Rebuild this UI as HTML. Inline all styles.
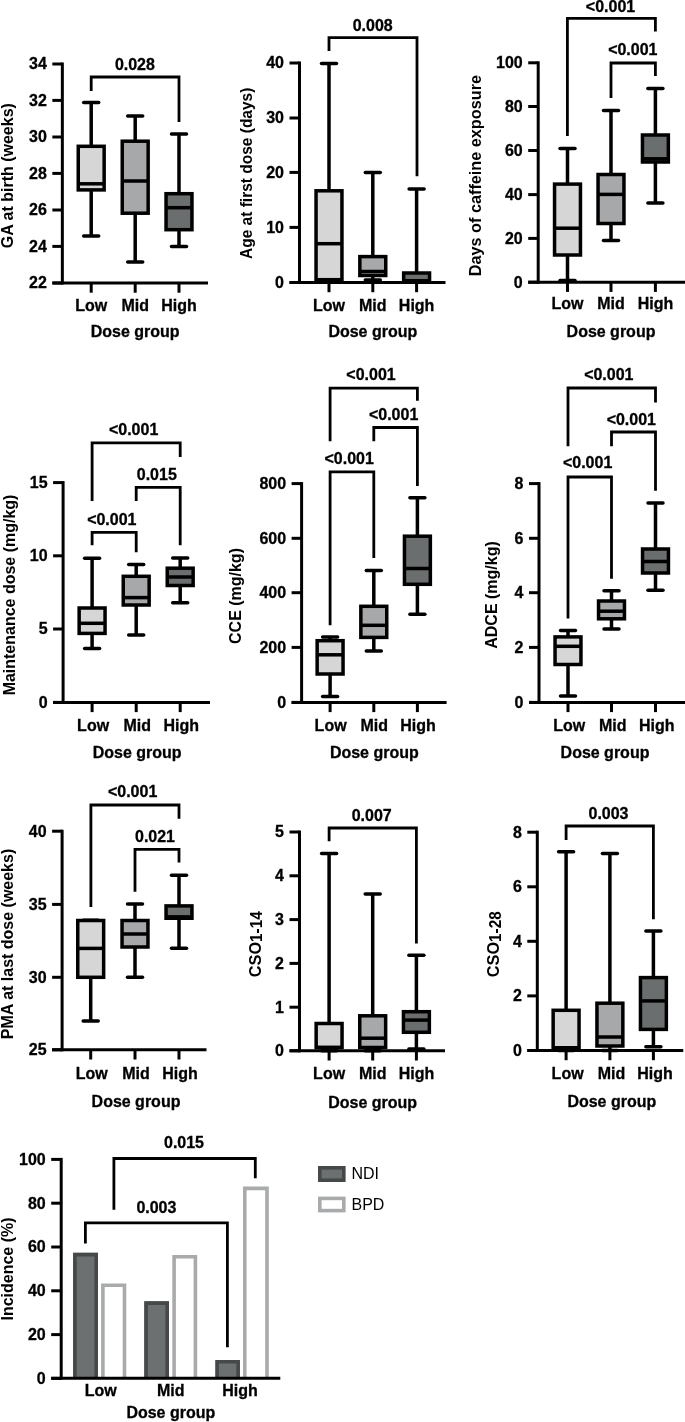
<!DOCTYPE html>
<html><head><meta charset="utf-8"><style>
html,body{margin:0;padding:0;background:#fff;}
svg{display:block;will-change:transform;}
text{font-family:"Liberation Sans", sans-serif;}
</style></head><body>
<svg width="685" height="1422" viewBox="0 0 685 1422">
<rect width="685" height="1422" fill="#fff"/>
<line x1="62.35" y1="62.50" x2="62.35" y2="284.50" stroke="#000" stroke-width="3.0" stroke-linecap="butt"/>
<line x1="52.35" y1="64.00" x2="62.35" y2="64.00" stroke="#000" stroke-width="3.0" stroke-linecap="butt"/>
<text transform="translate(46.85,69.30) scale(1.0,1.05)" text-anchor="end" font-size="16" font-weight="bold" fill="#000" stroke="#000" stroke-width="0.3">34</text>
<line x1="52.35" y1="100.40" x2="62.35" y2="100.40" stroke="#000" stroke-width="3.0" stroke-linecap="butt"/>
<text transform="translate(46.85,105.70) scale(1.0,1.05)" text-anchor="end" font-size="16" font-weight="bold" fill="#000" stroke="#000" stroke-width="0.3">32</text>
<line x1="52.35" y1="137.00" x2="62.35" y2="137.00" stroke="#000" stroke-width="3.0" stroke-linecap="butt"/>
<text transform="translate(46.85,142.30) scale(1.0,1.05)" text-anchor="end" font-size="16" font-weight="bold" fill="#000" stroke="#000" stroke-width="0.3">30</text>
<line x1="52.35" y1="173.40" x2="62.35" y2="173.40" stroke="#000" stroke-width="3.0" stroke-linecap="butt"/>
<text transform="translate(46.85,178.70) scale(1.0,1.05)" text-anchor="end" font-size="16" font-weight="bold" fill="#000" stroke="#000" stroke-width="0.3">28</text>
<line x1="52.35" y1="210.00" x2="62.35" y2="210.00" stroke="#000" stroke-width="3.0" stroke-linecap="butt"/>
<text transform="translate(46.85,215.30) scale(1.0,1.05)" text-anchor="end" font-size="16" font-weight="bold" fill="#000" stroke="#000" stroke-width="0.3">26</text>
<line x1="52.35" y1="246.40" x2="62.35" y2="246.40" stroke="#000" stroke-width="3.0" stroke-linecap="butt"/>
<text transform="translate(46.85,251.70) scale(1.0,1.05)" text-anchor="end" font-size="16" font-weight="bold" fill="#000" stroke="#000" stroke-width="0.3">24</text>
<line x1="52.35" y1="283.00" x2="62.35" y2="283.00" stroke="#000" stroke-width="3.0" stroke-linecap="butt"/>
<text transform="translate(46.85,288.30) scale(1.0,1.05)" text-anchor="end" font-size="16" font-weight="bold" fill="#000" stroke="#000" stroke-width="0.3">22</text>
<line x1="52.35" y1="283.00" x2="208.00" y2="283.00" stroke="#000" stroke-width="3.0" stroke-linecap="butt"/>
<line x1="91.20" y1="283.00" x2="91.20" y2="292.70" stroke="#000" stroke-width="3.0" stroke-linecap="butt"/>
<line x1="135.20" y1="283.00" x2="135.20" y2="292.70" stroke="#000" stroke-width="3.0" stroke-linecap="butt"/>
<line x1="179.00" y1="283.00" x2="179.00" y2="292.70" stroke="#000" stroke-width="3.0" stroke-linecap="butt"/>
<line x1="91.20" y1="102.60" x2="91.20" y2="146.30" stroke="#000" stroke-width="3.5" stroke-linecap="butt"/>
<line x1="91.20" y1="189.90" x2="91.20" y2="236.00" stroke="#000" stroke-width="3.5" stroke-linecap="butt"/>
<line x1="83.70" y1="102.60" x2="98.70" y2="102.60" stroke="#000" stroke-width="3.5" stroke-linecap="round"/>
<line x1="83.70" y1="236.00" x2="98.70" y2="236.00" stroke="#000" stroke-width="3.5" stroke-linecap="round"/>
<rect x="78.25" y="146.30" width="25.90" height="43.60" fill="#d6d6d6" stroke="#000" stroke-width="3.5"/>
<line x1="78.25" y1="183.80" x2="104.15" y2="183.80" stroke="#000" stroke-width="3.5" stroke-linecap="butt"/>
<line x1="135.20" y1="116.00" x2="135.20" y2="141.20" stroke="#000" stroke-width="3.5" stroke-linecap="butt"/>
<line x1="135.20" y1="213.20" x2="135.20" y2="262.00" stroke="#000" stroke-width="3.5" stroke-linecap="butt"/>
<line x1="127.70" y1="116.00" x2="142.70" y2="116.00" stroke="#000" stroke-width="3.5" stroke-linecap="round"/>
<line x1="127.70" y1="262.00" x2="142.70" y2="262.00" stroke="#000" stroke-width="3.5" stroke-linecap="round"/>
<rect x="122.25" y="141.20" width="25.90" height="72.00" fill="#a7a8aa" stroke="#000" stroke-width="3.5"/>
<line x1="122.25" y1="181.00" x2="148.15" y2="181.00" stroke="#000" stroke-width="3.5" stroke-linecap="butt"/>
<line x1="179.00" y1="134.00" x2="179.00" y2="193.70" stroke="#000" stroke-width="3.5" stroke-linecap="butt"/>
<line x1="179.00" y1="229.70" x2="179.00" y2="246.60" stroke="#000" stroke-width="3.5" stroke-linecap="butt"/>
<line x1="171.50" y1="134.00" x2="186.50" y2="134.00" stroke="#000" stroke-width="3.5" stroke-linecap="round"/>
<line x1="171.50" y1="246.60" x2="186.50" y2="246.60" stroke="#000" stroke-width="3.5" stroke-linecap="round"/>
<rect x="166.05" y="193.70" width="25.90" height="36.00" fill="#6b6e6e" stroke="#000" stroke-width="3.5"/>
<line x1="166.05" y1="207.70" x2="191.95" y2="207.70" stroke="#000" stroke-width="3.5" stroke-linecap="butt"/>
<path d="M91.20,91.00 V77.00 H179.00 V122.00" stroke="#000" stroke-width="2.8" fill="none" stroke-linejoin="miter" stroke-linecap="butt"/>
<text transform="translate(134.90,70.40) scale(1.0,1.05)" text-anchor="middle" font-size="16" font-weight="bold" fill="#000" stroke="#000" stroke-width="0.3">0.028</text>
<text transform="translate(91.20,310.90) scale(1.0,1.05)" text-anchor="middle" font-size="16" font-weight="bold" fill="#000" stroke="#000" stroke-width="0.3">Low</text>
<text transform="translate(135.20,310.90) scale(1.0,1.05)" text-anchor="middle" font-size="16" font-weight="bold" fill="#000" stroke="#000" stroke-width="0.3">Mid</text>
<text transform="translate(179.00,310.90) scale(1.0,1.05)" text-anchor="middle" font-size="16" font-weight="bold" fill="#000" stroke="#000" stroke-width="0.3">High</text>
<text transform="translate(135.20,337.20) scale(1.0,1.05)" text-anchor="middle" font-size="16" font-weight="bold" fill="#000" stroke="#000" stroke-width="0.3">Dose group</text>
<text transform="translate(12.80,175.70) rotate(-90) scale(1.0,1.05)" text-anchor="middle" font-size="16" font-weight="bold" fill="#000">GA at birth (weeks)</text>
<line x1="299.50" y1="61.50" x2="299.50" y2="284.00" stroke="#000" stroke-width="3.0" stroke-linecap="butt"/>
<line x1="289.50" y1="63.00" x2="299.50" y2="63.00" stroke="#000" stroke-width="3.0" stroke-linecap="butt"/>
<text transform="translate(284.00,68.30) scale(1.0,1.05)" text-anchor="end" font-size="16" font-weight="bold" fill="#000" stroke="#000" stroke-width="0.3">40</text>
<line x1="289.50" y1="118.00" x2="299.50" y2="118.00" stroke="#000" stroke-width="3.0" stroke-linecap="butt"/>
<text transform="translate(284.00,123.30) scale(1.0,1.05)" text-anchor="end" font-size="16" font-weight="bold" fill="#000" stroke="#000" stroke-width="0.3">30</text>
<line x1="289.50" y1="172.40" x2="299.50" y2="172.40" stroke="#000" stroke-width="3.0" stroke-linecap="butt"/>
<text transform="translate(284.00,177.70) scale(1.0,1.05)" text-anchor="end" font-size="16" font-weight="bold" fill="#000" stroke="#000" stroke-width="0.3">20</text>
<line x1="289.50" y1="227.40" x2="299.50" y2="227.40" stroke="#000" stroke-width="3.0" stroke-linecap="butt"/>
<text transform="translate(284.00,232.70) scale(1.0,1.05)" text-anchor="end" font-size="16" font-weight="bold" fill="#000" stroke="#000" stroke-width="0.3">10</text>
<line x1="289.50" y1="282.50" x2="299.50" y2="282.50" stroke="#000" stroke-width="3.0" stroke-linecap="butt"/>
<text transform="translate(284.00,287.80) scale(1.0,1.05)" text-anchor="end" font-size="16" font-weight="bold" fill="#000" stroke="#000" stroke-width="0.3">0</text>
<line x1="289.50" y1="282.50" x2="445.50" y2="282.50" stroke="#000" stroke-width="3.0" stroke-linecap="butt"/>
<line x1="329.00" y1="282.50" x2="329.00" y2="292.20" stroke="#000" stroke-width="3.0" stroke-linecap="butt"/>
<line x1="372.80" y1="282.50" x2="372.80" y2="292.20" stroke="#000" stroke-width="3.0" stroke-linecap="butt"/>
<line x1="416.60" y1="282.50" x2="416.60" y2="292.20" stroke="#000" stroke-width="3.0" stroke-linecap="butt"/>
<line x1="329.00" y1="63.60" x2="329.00" y2="190.80" stroke="#000" stroke-width="3.5" stroke-linecap="butt"/>
<line x1="329.00" y1="279.70" x2="329.00" y2="282.00" stroke="#000" stroke-width="3.5" stroke-linecap="butt"/>
<line x1="321.50" y1="63.60" x2="336.50" y2="63.60" stroke="#000" stroke-width="3.5" stroke-linecap="round"/>
<line x1="321.50" y1="282.00" x2="336.50" y2="282.00" stroke="#000" stroke-width="3.5" stroke-linecap="round"/>
<rect x="316.05" y="190.80" width="25.90" height="88.90" fill="#d6d6d6" stroke="#000" stroke-width="3.5"/>
<line x1="316.05" y1="243.70" x2="341.95" y2="243.70" stroke="#000" stroke-width="3.5" stroke-linecap="butt"/>
<line x1="372.80" y1="172.40" x2="372.80" y2="256.60" stroke="#000" stroke-width="3.5" stroke-linecap="butt"/>
<line x1="372.80" y1="275.50" x2="372.80" y2="280.00" stroke="#000" stroke-width="3.5" stroke-linecap="butt"/>
<line x1="365.30" y1="172.40" x2="380.30" y2="172.40" stroke="#000" stroke-width="3.5" stroke-linecap="round"/>
<line x1="365.30" y1="280.00" x2="380.30" y2="280.00" stroke="#000" stroke-width="3.5" stroke-linecap="round"/>
<rect x="359.85" y="256.60" width="25.90" height="18.90" fill="#a7a8aa" stroke="#000" stroke-width="3.5"/>
<line x1="359.85" y1="271.50" x2="385.75" y2="271.50" stroke="#000" stroke-width="3.5" stroke-linecap="butt"/>
<line x1="416.60" y1="189.00" x2="416.60" y2="273.00" stroke="#000" stroke-width="3.5" stroke-linecap="butt"/>
<line x1="416.60" y1="280.80" x2="416.60" y2="282.00" stroke="#000" stroke-width="3.5" stroke-linecap="butt"/>
<line x1="409.10" y1="189.00" x2="424.10" y2="189.00" stroke="#000" stroke-width="3.5" stroke-linecap="round"/>
<line x1="409.10" y1="282.00" x2="424.10" y2="282.00" stroke="#000" stroke-width="3.5" stroke-linecap="round"/>
<rect x="403.65" y="273.00" width="25.90" height="7.80" fill="#6b6e6e" stroke="#000" stroke-width="3.5"/>
<line x1="403.65" y1="280.80" x2="429.55" y2="280.80" stroke="#000" stroke-width="3.5" stroke-linecap="butt"/>
<path d="M329.00,51.00 V37.60 H417.00 V176.30" stroke="#000" stroke-width="2.8" fill="none" stroke-linejoin="miter" stroke-linecap="butt"/>
<text transform="translate(372.70,30.90) scale(1.0,1.05)" text-anchor="middle" font-size="16" font-weight="bold" fill="#000" stroke="#000" stroke-width="0.3">0.008</text>
<text transform="translate(329.00,311.20) scale(1.0,1.05)" text-anchor="middle" font-size="16" font-weight="bold" fill="#000" stroke="#000" stroke-width="0.3">Low</text>
<text transform="translate(372.80,311.20) scale(1.0,1.05)" text-anchor="middle" font-size="16" font-weight="bold" fill="#000" stroke="#000" stroke-width="0.3">Mid</text>
<text transform="translate(416.60,311.20) scale(1.0,1.05)" text-anchor="middle" font-size="16" font-weight="bold" fill="#000" stroke="#000" stroke-width="0.3">High</text>
<text transform="translate(372.80,337.40) scale(1.0,1.05)" text-anchor="middle" font-size="16" font-weight="bold" fill="#000" stroke="#000" stroke-width="0.3">Dose group</text>
<text transform="translate(251.60,173.30) rotate(-90) scale(0.969,1.05)" text-anchor="middle" font-size="16" font-weight="bold" fill="#000">Age at first dose (days)</text>
<line x1="538.20" y1="61.30" x2="538.20" y2="283.70" stroke="#000" stroke-width="3.0" stroke-linecap="butt"/>
<line x1="528.20" y1="62.80" x2="538.20" y2="62.80" stroke="#000" stroke-width="3.0" stroke-linecap="butt"/>
<text transform="translate(522.70,68.10) scale(1.0,1.05)" text-anchor="end" font-size="16" font-weight="bold" fill="#000" stroke="#000" stroke-width="0.3">100</text>
<line x1="528.20" y1="106.50" x2="538.20" y2="106.50" stroke="#000" stroke-width="3.0" stroke-linecap="butt"/>
<text transform="translate(522.70,111.80) scale(1.0,1.05)" text-anchor="end" font-size="16" font-weight="bold" fill="#000" stroke="#000" stroke-width="0.3">80</text>
<line x1="528.20" y1="150.50" x2="538.20" y2="150.50" stroke="#000" stroke-width="3.0" stroke-linecap="butt"/>
<text transform="translate(522.70,155.80) scale(1.0,1.05)" text-anchor="end" font-size="16" font-weight="bold" fill="#000" stroke="#000" stroke-width="0.3">60</text>
<line x1="528.20" y1="194.60" x2="538.20" y2="194.60" stroke="#000" stroke-width="3.0" stroke-linecap="butt"/>
<text transform="translate(522.70,199.90) scale(1.0,1.05)" text-anchor="end" font-size="16" font-weight="bold" fill="#000" stroke="#000" stroke-width="0.3">40</text>
<line x1="528.20" y1="238.40" x2="538.20" y2="238.40" stroke="#000" stroke-width="3.0" stroke-linecap="butt"/>
<text transform="translate(522.70,243.70) scale(1.0,1.05)" text-anchor="end" font-size="16" font-weight="bold" fill="#000" stroke="#000" stroke-width="0.3">20</text>
<line x1="528.20" y1="282.20" x2="538.20" y2="282.20" stroke="#000" stroke-width="3.0" stroke-linecap="butt"/>
<text transform="translate(522.70,287.50) scale(1.0,1.05)" text-anchor="end" font-size="16" font-weight="bold" fill="#000" stroke="#000" stroke-width="0.3">0</text>
<line x1="528.20" y1="282.20" x2="686.00" y2="282.20" stroke="#000" stroke-width="3.0" stroke-linecap="butt"/>
<line x1="567.50" y1="282.20" x2="567.50" y2="291.90" stroke="#000" stroke-width="3.0" stroke-linecap="butt"/>
<line x1="611.00" y1="282.20" x2="611.00" y2="291.90" stroke="#000" stroke-width="3.0" stroke-linecap="butt"/>
<line x1="655.40" y1="282.20" x2="655.40" y2="291.90" stroke="#000" stroke-width="3.0" stroke-linecap="butt"/>
<line x1="567.50" y1="148.40" x2="567.50" y2="184.10" stroke="#000" stroke-width="3.5" stroke-linecap="butt"/>
<line x1="567.50" y1="255.00" x2="567.50" y2="280.50" stroke="#000" stroke-width="3.5" stroke-linecap="butt"/>
<line x1="560.00" y1="148.40" x2="575.00" y2="148.40" stroke="#000" stroke-width="3.5" stroke-linecap="round"/>
<line x1="560.00" y1="280.50" x2="575.00" y2="280.50" stroke="#000" stroke-width="3.5" stroke-linecap="round"/>
<rect x="554.55" y="184.10" width="25.90" height="70.90" fill="#d6d6d6" stroke="#000" stroke-width="3.5"/>
<line x1="554.55" y1="228.20" x2="580.45" y2="228.20" stroke="#000" stroke-width="3.5" stroke-linecap="butt"/>
<line x1="611.00" y1="110.60" x2="611.00" y2="174.50" stroke="#000" stroke-width="3.5" stroke-linecap="butt"/>
<line x1="611.00" y1="223.50" x2="611.00" y2="240.40" stroke="#000" stroke-width="3.5" stroke-linecap="butt"/>
<line x1="603.50" y1="110.60" x2="618.50" y2="110.60" stroke="#000" stroke-width="3.5" stroke-linecap="round"/>
<line x1="603.50" y1="240.40" x2="618.50" y2="240.40" stroke="#000" stroke-width="3.5" stroke-linecap="round"/>
<rect x="598.05" y="174.50" width="25.90" height="49.00" fill="#a7a8aa" stroke="#000" stroke-width="3.5"/>
<line x1="598.05" y1="194.40" x2="623.95" y2="194.40" stroke="#000" stroke-width="3.5" stroke-linecap="butt"/>
<line x1="655.40" y1="88.60" x2="655.40" y2="135.00" stroke="#000" stroke-width="3.5" stroke-linecap="butt"/>
<line x1="655.40" y1="162.00" x2="655.40" y2="203.00" stroke="#000" stroke-width="3.5" stroke-linecap="butt"/>
<line x1="647.90" y1="88.60" x2="662.90" y2="88.60" stroke="#000" stroke-width="3.5" stroke-linecap="round"/>
<line x1="647.90" y1="203.00" x2="662.90" y2="203.00" stroke="#000" stroke-width="3.5" stroke-linecap="round"/>
<rect x="642.45" y="135.00" width="25.90" height="27.00" fill="#6b6e6e" stroke="#000" stroke-width="3.5"/>
<line x1="642.45" y1="158.80" x2="668.35" y2="158.80" stroke="#000" stroke-width="3.5" stroke-linecap="butt"/>
<path d="M567.40,136.00 V18.40 H655.40 V31.60" stroke="#000" stroke-width="2.8" fill="none" stroke-linejoin="miter" stroke-linecap="butt"/>
<text transform="translate(610.50,11.60) scale(1.0,1.05)" text-anchor="middle" font-size="16" font-weight="bold" fill="#000" stroke="#000" stroke-width="0.3">&lt;0.001</text>
<path d="M611.00,98.00 V63.00 H655.40 V76.00" stroke="#000" stroke-width="2.8" fill="none" stroke-linejoin="miter" stroke-linecap="butt"/>
<text transform="translate(632.80,55.00) scale(1.0,1.05)" text-anchor="middle" font-size="16" font-weight="bold" fill="#000" stroke="#000" stroke-width="0.3">&lt;0.001</text>
<text transform="translate(567.50,308.80) scale(1.0,1.05)" text-anchor="middle" font-size="16" font-weight="bold" fill="#000" stroke="#000" stroke-width="0.3">Low</text>
<text transform="translate(611.00,308.80) scale(1.0,1.05)" text-anchor="middle" font-size="16" font-weight="bold" fill="#000" stroke="#000" stroke-width="0.3">Mid</text>
<text transform="translate(655.40,308.80) scale(1.0,1.05)" text-anchor="middle" font-size="16" font-weight="bold" fill="#000" stroke="#000" stroke-width="0.3">High</text>
<text transform="translate(611.00,337.40) scale(1.0,1.05)" text-anchor="middle" font-size="16" font-weight="bold" fill="#000" stroke="#000" stroke-width="0.3">Dose group</text>
<text transform="translate(481.10,175.60) rotate(-90) scale(1.015,1.05)" text-anchor="middle" font-size="16" font-weight="bold" fill="#000">Days of caffeine exposure</text>
<line x1="63.10" y1="481.10" x2="63.10" y2="703.90" stroke="#000" stroke-width="3.0" stroke-linecap="butt"/>
<line x1="53.10" y1="482.60" x2="63.10" y2="482.60" stroke="#000" stroke-width="3.0" stroke-linecap="butt"/>
<text transform="translate(47.60,487.90) scale(1.0,1.05)" text-anchor="end" font-size="16" font-weight="bold" fill="#000" stroke="#000" stroke-width="0.3">15</text>
<line x1="53.10" y1="555.80" x2="63.10" y2="555.80" stroke="#000" stroke-width="3.0" stroke-linecap="butt"/>
<text transform="translate(47.60,561.10) scale(1.0,1.05)" text-anchor="end" font-size="16" font-weight="bold" fill="#000" stroke="#000" stroke-width="0.3">10</text>
<line x1="53.10" y1="629.00" x2="63.10" y2="629.00" stroke="#000" stroke-width="3.0" stroke-linecap="butt"/>
<text transform="translate(47.60,634.30) scale(1.0,1.05)" text-anchor="end" font-size="16" font-weight="bold" fill="#000" stroke="#000" stroke-width="0.3">5</text>
<line x1="53.10" y1="702.40" x2="63.10" y2="702.40" stroke="#000" stroke-width="3.0" stroke-linecap="butt"/>
<text transform="translate(47.60,707.70) scale(1.0,1.05)" text-anchor="end" font-size="16" font-weight="bold" fill="#000" stroke="#000" stroke-width="0.3">0</text>
<line x1="53.10" y1="702.40" x2="210.00" y2="702.40" stroke="#000" stroke-width="3.0" stroke-linecap="butt"/>
<line x1="92.10" y1="702.40" x2="92.10" y2="712.10" stroke="#000" stroke-width="3.0" stroke-linecap="butt"/>
<line x1="136.20" y1="702.40" x2="136.20" y2="712.10" stroke="#000" stroke-width="3.0" stroke-linecap="butt"/>
<line x1="180.20" y1="702.40" x2="180.20" y2="712.10" stroke="#000" stroke-width="3.0" stroke-linecap="butt"/>
<line x1="92.10" y1="558.30" x2="92.10" y2="608.00" stroke="#000" stroke-width="3.5" stroke-linecap="butt"/>
<line x1="92.10" y1="633.40" x2="92.10" y2="648.60" stroke="#000" stroke-width="3.5" stroke-linecap="butt"/>
<line x1="84.60" y1="558.30" x2="99.60" y2="558.30" stroke="#000" stroke-width="3.5" stroke-linecap="round"/>
<line x1="84.60" y1="648.60" x2="99.60" y2="648.60" stroke="#000" stroke-width="3.5" stroke-linecap="round"/>
<rect x="79.15" y="608.00" width="25.90" height="25.40" fill="#d6d6d6" stroke="#000" stroke-width="3.5"/>
<line x1="79.15" y1="623.30" x2="105.05" y2="623.30" stroke="#000" stroke-width="3.5" stroke-linecap="butt"/>
<line x1="136.20" y1="564.40" x2="136.20" y2="576.30" stroke="#000" stroke-width="3.5" stroke-linecap="butt"/>
<line x1="136.20" y1="605.00" x2="136.20" y2="634.90" stroke="#000" stroke-width="3.5" stroke-linecap="butt"/>
<line x1="128.70" y1="564.40" x2="143.70" y2="564.40" stroke="#000" stroke-width="3.5" stroke-linecap="round"/>
<line x1="128.70" y1="634.90" x2="143.70" y2="634.90" stroke="#000" stroke-width="3.5" stroke-linecap="round"/>
<rect x="123.25" y="576.30" width="25.90" height="28.70" fill="#a7a8aa" stroke="#000" stroke-width="3.5"/>
<line x1="123.25" y1="597.60" x2="149.15" y2="597.60" stroke="#000" stroke-width="3.5" stroke-linecap="butt"/>
<line x1="180.20" y1="557.90" x2="180.20" y2="568.20" stroke="#000" stroke-width="3.5" stroke-linecap="butt"/>
<line x1="180.20" y1="585.50" x2="180.20" y2="602.80" stroke="#000" stroke-width="3.5" stroke-linecap="butt"/>
<line x1="172.70" y1="557.90" x2="187.70" y2="557.90" stroke="#000" stroke-width="3.5" stroke-linecap="round"/>
<line x1="172.70" y1="602.80" x2="187.70" y2="602.80" stroke="#000" stroke-width="3.5" stroke-linecap="round"/>
<rect x="167.25" y="568.20" width="25.90" height="17.30" fill="#6b6e6e" stroke="#000" stroke-width="3.5"/>
<line x1="167.25" y1="577.00" x2="193.15" y2="577.00" stroke="#000" stroke-width="3.5" stroke-linecap="butt"/>
<path d="M92.10,501.00 V442.80 H180.20 V457.00" stroke="#000" stroke-width="2.8" fill="none" stroke-linejoin="miter" stroke-linecap="butt"/>
<text transform="translate(133.60,434.70) scale(1.0,1.05)" text-anchor="middle" font-size="16" font-weight="bold" fill="#000" stroke="#000" stroke-width="0.3">&lt;0.001</text>
<path d="M136.20,501.00 V487.30 H180.20 V545.30" stroke="#000" stroke-width="2.8" fill="none" stroke-linejoin="miter" stroke-linecap="butt"/>
<text transform="translate(156.80,479.90) scale(1.0,1.05)" text-anchor="middle" font-size="16" font-weight="bold" fill="#000" stroke="#000" stroke-width="0.3">0.015</text>
<path d="M92.10,545.30 V532.30 H136.20 V552.30" stroke="#000" stroke-width="2.8" fill="none" stroke-linejoin="miter" stroke-linecap="butt"/>
<text transform="translate(111.80,524.50) scale(1.0,1.05)" text-anchor="middle" font-size="16" font-weight="bold" fill="#000" stroke="#000" stroke-width="0.3">&lt;0.001</text>
<text transform="translate(93.10,730.50) scale(1.0,1.05)" text-anchor="middle" font-size="16" font-weight="bold" fill="#000" stroke="#000" stroke-width="0.3">Low</text>
<text transform="translate(137.20,730.50) scale(1.0,1.05)" text-anchor="middle" font-size="16" font-weight="bold" fill="#000" stroke="#000" stroke-width="0.3">Mid</text>
<text transform="translate(181.20,730.50) scale(1.0,1.05)" text-anchor="middle" font-size="16" font-weight="bold" fill="#000" stroke="#000" stroke-width="0.3">High</text>
<text transform="translate(137.20,757.60) scale(1.0,1.05)" text-anchor="middle" font-size="16" font-weight="bold" fill="#000" stroke="#000" stroke-width="0.3">Dose group</text>
<text transform="translate(15.30,595.00) rotate(-90) scale(1.0,1.05)" text-anchor="middle" font-size="16" font-weight="bold" fill="#000">Maintenance dose (mg/kg)</text>
<line x1="301.60" y1="482.10" x2="301.60" y2="703.90" stroke="#000" stroke-width="3.0" stroke-linecap="butt"/>
<line x1="291.60" y1="483.60" x2="301.60" y2="483.60" stroke="#000" stroke-width="3.0" stroke-linecap="butt"/>
<text transform="translate(286.10,488.90) scale(1.0,1.05)" text-anchor="end" font-size="16" font-weight="bold" fill="#000" stroke="#000" stroke-width="0.3">800</text>
<line x1="291.60" y1="538.30" x2="301.60" y2="538.30" stroke="#000" stroke-width="3.0" stroke-linecap="butt"/>
<text transform="translate(286.10,543.60) scale(1.0,1.05)" text-anchor="end" font-size="16" font-weight="bold" fill="#000" stroke="#000" stroke-width="0.3">600</text>
<line x1="291.60" y1="592.70" x2="301.60" y2="592.70" stroke="#000" stroke-width="3.0" stroke-linecap="butt"/>
<text transform="translate(286.10,598.00) scale(1.0,1.05)" text-anchor="end" font-size="16" font-weight="bold" fill="#000" stroke="#000" stroke-width="0.3">400</text>
<line x1="291.60" y1="647.40" x2="301.60" y2="647.40" stroke="#000" stroke-width="3.0" stroke-linecap="butt"/>
<text transform="translate(286.10,652.70) scale(1.0,1.05)" text-anchor="end" font-size="16" font-weight="bold" fill="#000" stroke="#000" stroke-width="0.3">200</text>
<line x1="291.60" y1="702.40" x2="301.60" y2="702.40" stroke="#000" stroke-width="3.0" stroke-linecap="butt"/>
<text transform="translate(286.10,707.70) scale(1.0,1.05)" text-anchor="end" font-size="16" font-weight="bold" fill="#000" stroke="#000" stroke-width="0.3">0</text>
<line x1="291.60" y1="702.40" x2="446.60" y2="702.40" stroke="#000" stroke-width="3.0" stroke-linecap="butt"/>
<line x1="330.10" y1="702.40" x2="330.10" y2="712.10" stroke="#000" stroke-width="3.0" stroke-linecap="butt"/>
<line x1="373.80" y1="702.40" x2="373.80" y2="712.10" stroke="#000" stroke-width="3.0" stroke-linecap="butt"/>
<line x1="417.40" y1="702.40" x2="417.40" y2="712.10" stroke="#000" stroke-width="3.0" stroke-linecap="butt"/>
<line x1="330.10" y1="637.00" x2="330.10" y2="640.70" stroke="#000" stroke-width="3.5" stroke-linecap="butt"/>
<line x1="330.10" y1="674.00" x2="330.10" y2="696.50" stroke="#000" stroke-width="3.5" stroke-linecap="butt"/>
<line x1="322.60" y1="637.00" x2="337.60" y2="637.00" stroke="#000" stroke-width="3.5" stroke-linecap="round"/>
<line x1="322.60" y1="696.50" x2="337.60" y2="696.50" stroke="#000" stroke-width="3.5" stroke-linecap="round"/>
<rect x="317.15" y="640.70" width="25.90" height="33.30" fill="#d6d6d6" stroke="#000" stroke-width="3.5"/>
<line x1="317.15" y1="654.80" x2="343.05" y2="654.80" stroke="#000" stroke-width="3.5" stroke-linecap="butt"/>
<line x1="373.80" y1="570.50" x2="373.80" y2="606.30" stroke="#000" stroke-width="3.5" stroke-linecap="butt"/>
<line x1="373.80" y1="637.40" x2="373.80" y2="651.00" stroke="#000" stroke-width="3.5" stroke-linecap="butt"/>
<line x1="366.30" y1="570.50" x2="381.30" y2="570.50" stroke="#000" stroke-width="3.5" stroke-linecap="round"/>
<line x1="366.30" y1="651.00" x2="381.30" y2="651.00" stroke="#000" stroke-width="3.5" stroke-linecap="round"/>
<rect x="360.85" y="606.30" width="25.90" height="31.10" fill="#a7a8aa" stroke="#000" stroke-width="3.5"/>
<line x1="360.85" y1="625.30" x2="386.75" y2="625.30" stroke="#000" stroke-width="3.5" stroke-linecap="butt"/>
<line x1="417.40" y1="497.70" x2="417.40" y2="536.20" stroke="#000" stroke-width="3.5" stroke-linecap="butt"/>
<line x1="417.40" y1="584.30" x2="417.40" y2="614.20" stroke="#000" stroke-width="3.5" stroke-linecap="butt"/>
<line x1="409.90" y1="497.70" x2="424.90" y2="497.70" stroke="#000" stroke-width="3.5" stroke-linecap="round"/>
<line x1="409.90" y1="614.20" x2="424.90" y2="614.20" stroke="#000" stroke-width="3.5" stroke-linecap="round"/>
<rect x="404.45" y="536.20" width="25.90" height="48.10" fill="#6b6e6e" stroke="#000" stroke-width="3.5"/>
<line x1="404.45" y1="568.50" x2="430.35" y2="568.50" stroke="#000" stroke-width="3.5" stroke-linecap="butt"/>
<path d="M330.10,441.20 V388.20 H417.40 V400.80" stroke="#000" stroke-width="2.8" fill="none" stroke-linejoin="miter" stroke-linecap="butt"/>
<text transform="translate(371.00,379.70) scale(1.0,1.05)" text-anchor="middle" font-size="16" font-weight="bold" fill="#000" stroke="#000" stroke-width="0.3">&lt;0.001</text>
<path d="M373.80,441.20 V427.50 H417.40 V486.00" stroke="#000" stroke-width="2.8" fill="none" stroke-linejoin="miter" stroke-linecap="butt"/>
<text transform="translate(393.60,419.80) scale(1.0,1.05)" text-anchor="middle" font-size="16" font-weight="bold" fill="#000" stroke="#000" stroke-width="0.3">&lt;0.001</text>
<path d="M330.10,625.30 V471.80 H373.80 V558.00" stroke="#000" stroke-width="2.8" fill="none" stroke-linejoin="miter" stroke-linecap="butt"/>
<text transform="translate(349.20,463.50) scale(1.0,1.05)" text-anchor="middle" font-size="16" font-weight="bold" fill="#000" stroke="#000" stroke-width="0.3">&lt;0.001</text>
<text transform="translate(330.60,730.50) scale(1.0,1.05)" text-anchor="middle" font-size="16" font-weight="bold" fill="#000" stroke="#000" stroke-width="0.3">Low</text>
<text transform="translate(374.30,730.50) scale(1.0,1.05)" text-anchor="middle" font-size="16" font-weight="bold" fill="#000" stroke="#000" stroke-width="0.3">Mid</text>
<text transform="translate(417.90,730.50) scale(1.0,1.05)" text-anchor="middle" font-size="16" font-weight="bold" fill="#000" stroke="#000" stroke-width="0.3">High</text>
<text transform="translate(374.30,757.60) scale(1.0,1.05)" text-anchor="middle" font-size="16" font-weight="bold" fill="#000" stroke="#000" stroke-width="0.3">Dose group</text>
<text transform="translate(241.00,596.00) rotate(-90) scale(1.0,1.05)" text-anchor="middle" font-size="16" font-weight="bold" fill="#000">CCE (mg/kg)</text>
<line x1="539.00" y1="482.10" x2="539.00" y2="703.90" stroke="#000" stroke-width="3.0" stroke-linecap="butt"/>
<line x1="529.00" y1="483.60" x2="539.00" y2="483.60" stroke="#000" stroke-width="3.0" stroke-linecap="butt"/>
<text transform="translate(523.50,488.90) scale(1.0,1.05)" text-anchor="end" font-size="16" font-weight="bold" fill="#000" stroke="#000" stroke-width="0.3">8</text>
<line x1="529.00" y1="538.30" x2="539.00" y2="538.30" stroke="#000" stroke-width="3.0" stroke-linecap="butt"/>
<text transform="translate(523.50,543.60) scale(1.0,1.05)" text-anchor="end" font-size="16" font-weight="bold" fill="#000" stroke="#000" stroke-width="0.3">6</text>
<line x1="529.00" y1="592.70" x2="539.00" y2="592.70" stroke="#000" stroke-width="3.0" stroke-linecap="butt"/>
<text transform="translate(523.50,598.00) scale(1.0,1.05)" text-anchor="end" font-size="16" font-weight="bold" fill="#000" stroke="#000" stroke-width="0.3">4</text>
<line x1="529.00" y1="647.40" x2="539.00" y2="647.40" stroke="#000" stroke-width="3.0" stroke-linecap="butt"/>
<text transform="translate(523.50,652.70) scale(1.0,1.05)" text-anchor="end" font-size="16" font-weight="bold" fill="#000" stroke="#000" stroke-width="0.3">2</text>
<line x1="529.00" y1="702.40" x2="539.00" y2="702.40" stroke="#000" stroke-width="3.0" stroke-linecap="butt"/>
<text transform="translate(523.50,707.70) scale(1.0,1.05)" text-anchor="end" font-size="16" font-weight="bold" fill="#000" stroke="#000" stroke-width="0.3">0</text>
<line x1="529.00" y1="702.40" x2="686.00" y2="702.40" stroke="#000" stroke-width="3.0" stroke-linecap="butt"/>
<line x1="568.00" y1="702.40" x2="568.00" y2="712.10" stroke="#000" stroke-width="3.0" stroke-linecap="butt"/>
<line x1="611.50" y1="702.40" x2="611.50" y2="712.10" stroke="#000" stroke-width="3.0" stroke-linecap="butt"/>
<line x1="655.50" y1="702.40" x2="655.50" y2="712.10" stroke="#000" stroke-width="3.0" stroke-linecap="butt"/>
<line x1="568.00" y1="630.60" x2="568.00" y2="636.90" stroke="#000" stroke-width="3.5" stroke-linecap="butt"/>
<line x1="568.00" y1="664.50" x2="568.00" y2="696.00" stroke="#000" stroke-width="3.5" stroke-linecap="butt"/>
<line x1="560.50" y1="630.60" x2="575.50" y2="630.60" stroke="#000" stroke-width="3.5" stroke-linecap="round"/>
<line x1="560.50" y1="696.00" x2="575.50" y2="696.00" stroke="#000" stroke-width="3.5" stroke-linecap="round"/>
<rect x="555.05" y="636.90" width="25.90" height="27.60" fill="#d6d6d6" stroke="#000" stroke-width="3.5"/>
<line x1="555.05" y1="646.30" x2="580.95" y2="646.30" stroke="#000" stroke-width="3.5" stroke-linecap="butt"/>
<line x1="611.50" y1="590.80" x2="611.50" y2="601.00" stroke="#000" stroke-width="3.5" stroke-linecap="butt"/>
<line x1="611.50" y1="618.80" x2="611.50" y2="629.00" stroke="#000" stroke-width="3.5" stroke-linecap="butt"/>
<line x1="604.00" y1="590.80" x2="619.00" y2="590.80" stroke="#000" stroke-width="3.5" stroke-linecap="round"/>
<line x1="604.00" y1="629.00" x2="619.00" y2="629.00" stroke="#000" stroke-width="3.5" stroke-linecap="round"/>
<rect x="598.55" y="601.00" width="25.90" height="17.80" fill="#a7a8aa" stroke="#000" stroke-width="3.5"/>
<line x1="598.55" y1="611.20" x2="624.45" y2="611.20" stroke="#000" stroke-width="3.5" stroke-linecap="butt"/>
<line x1="655.50" y1="502.90" x2="655.50" y2="549.00" stroke="#000" stroke-width="3.5" stroke-linecap="butt"/>
<line x1="655.50" y1="573.00" x2="655.50" y2="590.30" stroke="#000" stroke-width="3.5" stroke-linecap="butt"/>
<line x1="648.00" y1="502.90" x2="663.00" y2="502.90" stroke="#000" stroke-width="3.5" stroke-linecap="round"/>
<line x1="648.00" y1="590.30" x2="663.00" y2="590.30" stroke="#000" stroke-width="3.5" stroke-linecap="round"/>
<rect x="642.55" y="549.00" width="25.90" height="24.00" fill="#6b6e6e" stroke="#000" stroke-width="3.5"/>
<line x1="642.55" y1="561.50" x2="668.45" y2="561.50" stroke="#000" stroke-width="3.5" stroke-linecap="butt"/>
<path d="M568.00,446.20 V388.00 H655.50 V402.50" stroke="#000" stroke-width="2.8" fill="none" stroke-linejoin="miter" stroke-linecap="butt"/>
<text transform="translate(608.80,379.70) scale(1.0,1.05)" text-anchor="middle" font-size="16" font-weight="bold" fill="#000" stroke="#000" stroke-width="0.3">&lt;0.001</text>
<path d="M611.50,446.20 V432.00 H655.50 V490.80" stroke="#000" stroke-width="2.8" fill="none" stroke-linejoin="miter" stroke-linecap="butt"/>
<text transform="translate(631.30,424.60) scale(1.0,1.05)" text-anchor="middle" font-size="16" font-weight="bold" fill="#000" stroke="#000" stroke-width="0.3">&lt;0.001</text>
<path d="M568.00,618.50 V477.00 H611.50 V578.80" stroke="#000" stroke-width="2.8" fill="none" stroke-linejoin="miter" stroke-linecap="butt"/>
<text transform="translate(587.60,468.20) scale(1.0,1.05)" text-anchor="middle" font-size="16" font-weight="bold" fill="#000" stroke="#000" stroke-width="0.3">&lt;0.001</text>
<text transform="translate(569.20,730.50) scale(1.0,1.05)" text-anchor="middle" font-size="16" font-weight="bold" fill="#000" stroke="#000" stroke-width="0.3">Low</text>
<text transform="translate(612.70,730.50) scale(1.0,1.05)" text-anchor="middle" font-size="16" font-weight="bold" fill="#000" stroke="#000" stroke-width="0.3">Mid</text>
<text transform="translate(656.70,730.50) scale(1.0,1.05)" text-anchor="middle" font-size="16" font-weight="bold" fill="#000" stroke="#000" stroke-width="0.3">High</text>
<text transform="translate(605.00,757.60) scale(1.0,1.05)" text-anchor="middle" font-size="16" font-weight="bold" fill="#000" stroke="#000" stroke-width="0.3">Dose group</text>
<text transform="translate(497.00,595.00) rotate(-90) scale(1.0,1.05)" text-anchor="middle" font-size="16" font-weight="bold" fill="#000">ADCE (mg/kg)</text>
<line x1="62.10" y1="829.70" x2="62.10" y2="1051.30" stroke="#000" stroke-width="3.0" stroke-linecap="butt"/>
<line x1="52.10" y1="831.20" x2="62.10" y2="831.20" stroke="#000" stroke-width="3.0" stroke-linecap="butt"/>
<text transform="translate(46.60,836.50) scale(1.0,1.05)" text-anchor="end" font-size="16" font-weight="bold" fill="#000" stroke="#000" stroke-width="0.3">40</text>
<line x1="52.10" y1="904.40" x2="62.10" y2="904.40" stroke="#000" stroke-width="3.0" stroke-linecap="butt"/>
<text transform="translate(46.60,909.70) scale(1.0,1.05)" text-anchor="end" font-size="16" font-weight="bold" fill="#000" stroke="#000" stroke-width="0.3">35</text>
<line x1="52.10" y1="977.30" x2="62.10" y2="977.30" stroke="#000" stroke-width="3.0" stroke-linecap="butt"/>
<text transform="translate(46.60,982.60) scale(1.0,1.05)" text-anchor="end" font-size="16" font-weight="bold" fill="#000" stroke="#000" stroke-width="0.3">30</text>
<line x1="52.10" y1="1049.80" x2="62.10" y2="1049.80" stroke="#000" stroke-width="3.0" stroke-linecap="butt"/>
<text transform="translate(46.60,1055.10) scale(1.0,1.05)" text-anchor="end" font-size="16" font-weight="bold" fill="#000" stroke="#000" stroke-width="0.3">25</text>
<line x1="52.10" y1="1049.80" x2="206.50" y2="1049.80" stroke="#000" stroke-width="3.0" stroke-linecap="butt"/>
<line x1="90.70" y1="1049.80" x2="90.70" y2="1059.50" stroke="#000" stroke-width="3.0" stroke-linecap="butt"/>
<line x1="135.00" y1="1049.80" x2="135.00" y2="1059.50" stroke="#000" stroke-width="3.0" stroke-linecap="butt"/>
<line x1="179.00" y1="1049.80" x2="179.00" y2="1059.50" stroke="#000" stroke-width="3.0" stroke-linecap="butt"/>
<line x1="90.70" y1="920.20" x2="90.70" y2="920.50" stroke="#000" stroke-width="3.5" stroke-linecap="butt"/>
<line x1="90.70" y1="977.30" x2="90.70" y2="1020.90" stroke="#000" stroke-width="3.5" stroke-linecap="butt"/>
<line x1="83.20" y1="920.20" x2="98.20" y2="920.20" stroke="#000" stroke-width="3.5" stroke-linecap="round"/>
<line x1="83.20" y1="1020.90" x2="98.20" y2="1020.90" stroke="#000" stroke-width="3.5" stroke-linecap="round"/>
<rect x="77.75" y="920.50" width="25.90" height="56.80" fill="#d6d6d6" stroke="#000" stroke-width="3.5"/>
<line x1="77.75" y1="948.40" x2="103.65" y2="948.40" stroke="#000" stroke-width="3.5" stroke-linecap="butt"/>
<line x1="135.00" y1="904.10" x2="135.00" y2="920.50" stroke="#000" stroke-width="3.5" stroke-linecap="butt"/>
<line x1="135.00" y1="947.00" x2="135.00" y2="977.30" stroke="#000" stroke-width="3.5" stroke-linecap="butt"/>
<line x1="127.50" y1="904.10" x2="142.50" y2="904.10" stroke="#000" stroke-width="3.5" stroke-linecap="round"/>
<line x1="127.50" y1="977.30" x2="142.50" y2="977.30" stroke="#000" stroke-width="3.5" stroke-linecap="round"/>
<rect x="122.05" y="920.50" width="25.90" height="26.50" fill="#a7a8aa" stroke="#000" stroke-width="3.5"/>
<line x1="122.05" y1="934.00" x2="147.95" y2="934.00" stroke="#000" stroke-width="3.5" stroke-linecap="butt"/>
<line x1="179.00" y1="875.30" x2="179.00" y2="905.90" stroke="#000" stroke-width="3.5" stroke-linecap="butt"/>
<line x1="179.00" y1="918.25" x2="179.00" y2="948.30" stroke="#000" stroke-width="3.5" stroke-linecap="butt"/>
<line x1="171.50" y1="875.30" x2="186.50" y2="875.30" stroke="#000" stroke-width="3.5" stroke-linecap="round"/>
<line x1="171.50" y1="948.30" x2="186.50" y2="948.30" stroke="#000" stroke-width="3.5" stroke-linecap="round"/>
<rect x="166.05" y="905.90" width="25.90" height="12.35" fill="#6b6e6e" stroke="#000" stroke-width="3.5"/>
<line x1="166.05" y1="916.85" x2="191.95" y2="916.85" stroke="#000" stroke-width="3.5" stroke-linecap="butt"/>
<path d="M90.90,907.00 V805.00 H179.00 V818.70" stroke="#000" stroke-width="2.8" fill="none" stroke-linejoin="miter" stroke-linecap="butt"/>
<text transform="translate(132.60,796.60) scale(1.0,1.05)" text-anchor="middle" font-size="16" font-weight="bold" fill="#000" stroke="#000" stroke-width="0.3">&lt;0.001</text>
<path d="M135.00,891.80 V849.40 H179.00 V862.60" stroke="#000" stroke-width="2.8" fill="none" stroke-linejoin="miter" stroke-linecap="butt"/>
<text transform="translate(155.00,841.60) scale(1.0,1.05)" text-anchor="middle" font-size="16" font-weight="bold" fill="#000" stroke="#000" stroke-width="0.3">0.021</text>
<text transform="translate(91.70,1079.00) scale(1.0,1.05)" text-anchor="middle" font-size="16" font-weight="bold" fill="#000" stroke="#000" stroke-width="0.3">Low</text>
<text transform="translate(136.00,1079.00) scale(1.0,1.05)" text-anchor="middle" font-size="16" font-weight="bold" fill="#000" stroke="#000" stroke-width="0.3">Mid</text>
<text transform="translate(180.00,1079.00) scale(1.0,1.05)" text-anchor="middle" font-size="16" font-weight="bold" fill="#000" stroke="#000" stroke-width="0.3">High</text>
<text transform="translate(136.00,1107.20) scale(1.0,1.05)" text-anchor="middle" font-size="16" font-weight="bold" fill="#000" stroke="#000" stroke-width="0.3">Dose group</text>
<text transform="translate(13.10,944.00) rotate(-90) scale(1.0,1.05)" text-anchor="middle" font-size="16" font-weight="bold" fill="#000">PMA at last dose (weeks)</text>
<line x1="299.50" y1="830.50" x2="299.50" y2="1052.30" stroke="#000" stroke-width="3.0" stroke-linecap="butt"/>
<line x1="289.50" y1="832.00" x2="299.50" y2="832.00" stroke="#000" stroke-width="3.0" stroke-linecap="butt"/>
<text transform="translate(284.00,837.30) scale(1.0,1.05)" text-anchor="end" font-size="16" font-weight="bold" fill="#000" stroke="#000" stroke-width="0.3">5</text>
<line x1="289.50" y1="875.80" x2="299.50" y2="875.80" stroke="#000" stroke-width="3.0" stroke-linecap="butt"/>
<text transform="translate(284.00,881.10) scale(1.0,1.05)" text-anchor="end" font-size="16" font-weight="bold" fill="#000" stroke="#000" stroke-width="0.3">4</text>
<line x1="289.50" y1="919.60" x2="299.50" y2="919.60" stroke="#000" stroke-width="3.0" stroke-linecap="butt"/>
<text transform="translate(284.00,924.90) scale(1.0,1.05)" text-anchor="end" font-size="16" font-weight="bold" fill="#000" stroke="#000" stroke-width="0.3">3</text>
<line x1="289.50" y1="963.40" x2="299.50" y2="963.40" stroke="#000" stroke-width="3.0" stroke-linecap="butt"/>
<text transform="translate(284.00,968.70) scale(1.0,1.05)" text-anchor="end" font-size="16" font-weight="bold" fill="#000" stroke="#000" stroke-width="0.3">2</text>
<line x1="289.50" y1="1007.20" x2="299.50" y2="1007.20" stroke="#000" stroke-width="3.0" stroke-linecap="butt"/>
<text transform="translate(284.00,1012.50) scale(1.0,1.05)" text-anchor="end" font-size="16" font-weight="bold" fill="#000" stroke="#000" stroke-width="0.3">1</text>
<line x1="289.50" y1="1050.80" x2="299.50" y2="1050.80" stroke="#000" stroke-width="3.0" stroke-linecap="butt"/>
<text transform="translate(284.00,1056.10) scale(1.0,1.05)" text-anchor="end" font-size="16" font-weight="bold" fill="#000" stroke="#000" stroke-width="0.3">0</text>
<line x1="289.50" y1="1050.80" x2="445.00" y2="1050.80" stroke="#000" stroke-width="3.0" stroke-linecap="butt"/>
<line x1="329.10" y1="1050.80" x2="329.10" y2="1060.50" stroke="#000" stroke-width="3.0" stroke-linecap="butt"/>
<line x1="372.70" y1="1050.80" x2="372.70" y2="1060.50" stroke="#000" stroke-width="3.0" stroke-linecap="butt"/>
<line x1="416.40" y1="1050.80" x2="416.40" y2="1060.50" stroke="#000" stroke-width="3.0" stroke-linecap="butt"/>
<line x1="329.10" y1="853.60" x2="329.10" y2="1023.50" stroke="#000" stroke-width="3.5" stroke-linecap="butt"/>
<line x1="329.10" y1="1047.50" x2="329.10" y2="1050.80" stroke="#000" stroke-width="3.5" stroke-linecap="butt"/>
<line x1="321.60" y1="853.60" x2="336.60" y2="853.60" stroke="#000" stroke-width="3.5" stroke-linecap="round"/>
<line x1="321.60" y1="1050.80" x2="336.60" y2="1050.80" stroke="#000" stroke-width="3.5" stroke-linecap="round"/>
<rect x="316.15" y="1023.50" width="25.90" height="24.00" fill="#d6d6d6" stroke="#000" stroke-width="3.5"/>
<line x1="316.15" y1="1047.50" x2="342.05" y2="1047.50" stroke="#000" stroke-width="3.5" stroke-linecap="butt"/>
<line x1="372.70" y1="893.90" x2="372.70" y2="1015.80" stroke="#000" stroke-width="3.5" stroke-linecap="butt"/>
<line x1="372.70" y1="1047.50" x2="372.70" y2="1050.80" stroke="#000" stroke-width="3.5" stroke-linecap="butt"/>
<line x1="365.20" y1="893.90" x2="380.20" y2="893.90" stroke="#000" stroke-width="3.5" stroke-linecap="round"/>
<line x1="365.20" y1="1050.80" x2="380.20" y2="1050.80" stroke="#000" stroke-width="3.5" stroke-linecap="round"/>
<rect x="359.75" y="1015.80" width="25.90" height="31.70" fill="#a7a8aa" stroke="#000" stroke-width="3.5"/>
<line x1="359.75" y1="1038.20" x2="385.65" y2="1038.20" stroke="#000" stroke-width="3.5" stroke-linecap="butt"/>
<line x1="416.40" y1="955.20" x2="416.40" y2="1011.70" stroke="#000" stroke-width="3.5" stroke-linecap="butt"/>
<line x1="416.40" y1="1032.30" x2="416.40" y2="1049.00" stroke="#000" stroke-width="3.5" stroke-linecap="butt"/>
<line x1="408.90" y1="955.20" x2="423.90" y2="955.20" stroke="#000" stroke-width="3.5" stroke-linecap="round"/>
<line x1="408.90" y1="1049.00" x2="423.90" y2="1049.00" stroke="#000" stroke-width="3.5" stroke-linecap="round"/>
<rect x="403.45" y="1011.70" width="25.90" height="20.60" fill="#6b6e6e" stroke="#000" stroke-width="3.5"/>
<line x1="403.45" y1="1020.10" x2="429.35" y2="1020.10" stroke="#000" stroke-width="3.5" stroke-linecap="butt"/>
<path d="M329.10,841.30 V828.00 H416.40 V943.50" stroke="#000" stroke-width="2.8" fill="none" stroke-linejoin="miter" stroke-linecap="butt"/>
<text transform="translate(371.70,820.90) scale(1.0,1.05)" text-anchor="middle" font-size="16" font-weight="bold" fill="#000" stroke="#000" stroke-width="0.3">0.007</text>
<text transform="translate(329.10,1079.40) scale(1.0,1.05)" text-anchor="middle" font-size="16" font-weight="bold" fill="#000" stroke="#000" stroke-width="0.3">Low</text>
<text transform="translate(372.70,1079.40) scale(1.0,1.05)" text-anchor="middle" font-size="16" font-weight="bold" fill="#000" stroke="#000" stroke-width="0.3">Mid</text>
<text transform="translate(416.40,1079.40) scale(1.0,1.05)" text-anchor="middle" font-size="16" font-weight="bold" fill="#000" stroke="#000" stroke-width="0.3">High</text>
<text transform="translate(372.70,1107.60) scale(1.0,1.05)" text-anchor="middle" font-size="16" font-weight="bold" fill="#000" stroke="#000" stroke-width="0.3">Dose group</text>
<text transform="translate(260.80,944.30) rotate(-90) scale(1.02,1.05)" text-anchor="middle" font-size="16" font-weight="bold" fill="#000">CSO<tspan dy="1.3" font-size="15">1-14</tspan></text>
<line x1="537.30" y1="830.70" x2="537.30" y2="1052.00" stroke="#000" stroke-width="3.0" stroke-linecap="butt"/>
<line x1="527.30" y1="832.20" x2="537.30" y2="832.20" stroke="#000" stroke-width="3.0" stroke-linecap="butt"/>
<text transform="translate(521.80,837.50) scale(1.0,1.05)" text-anchor="end" font-size="16" font-weight="bold" fill="#000" stroke="#000" stroke-width="0.3">8</text>
<line x1="527.30" y1="886.80" x2="537.30" y2="886.80" stroke="#000" stroke-width="3.0" stroke-linecap="butt"/>
<text transform="translate(521.80,892.10) scale(1.0,1.05)" text-anchor="end" font-size="16" font-weight="bold" fill="#000" stroke="#000" stroke-width="0.3">6</text>
<line x1="527.30" y1="941.30" x2="537.30" y2="941.30" stroke="#000" stroke-width="3.0" stroke-linecap="butt"/>
<text transform="translate(521.80,946.60) scale(1.0,1.05)" text-anchor="end" font-size="16" font-weight="bold" fill="#000" stroke="#000" stroke-width="0.3">4</text>
<line x1="527.30" y1="995.90" x2="537.30" y2="995.90" stroke="#000" stroke-width="3.0" stroke-linecap="butt"/>
<text transform="translate(521.80,1001.20) scale(1.0,1.05)" text-anchor="end" font-size="16" font-weight="bold" fill="#000" stroke="#000" stroke-width="0.3">2</text>
<line x1="527.30" y1="1050.50" x2="537.30" y2="1050.50" stroke="#000" stroke-width="3.0" stroke-linecap="butt"/>
<text transform="translate(521.80,1055.80) scale(1.0,1.05)" text-anchor="end" font-size="16" font-weight="bold" fill="#000" stroke="#000" stroke-width="0.3">0</text>
<line x1="527.30" y1="1050.50" x2="683.30" y2="1050.50" stroke="#000" stroke-width="3.0" stroke-linecap="butt"/>
<line x1="566.10" y1="1050.50" x2="566.10" y2="1060.20" stroke="#000" stroke-width="3.0" stroke-linecap="butt"/>
<line x1="609.90" y1="1050.50" x2="609.90" y2="1060.20" stroke="#000" stroke-width="3.0" stroke-linecap="butt"/>
<line x1="653.40" y1="1050.50" x2="653.40" y2="1060.20" stroke="#000" stroke-width="3.0" stroke-linecap="butt"/>
<line x1="566.10" y1="851.70" x2="566.10" y2="1010.30" stroke="#000" stroke-width="3.5" stroke-linecap="butt"/>
<line x1="566.10" y1="1047.80" x2="566.10" y2="1050.50" stroke="#000" stroke-width="3.5" stroke-linecap="butt"/>
<line x1="558.60" y1="851.70" x2="573.60" y2="851.70" stroke="#000" stroke-width="3.5" stroke-linecap="round"/>
<line x1="558.60" y1="1050.50" x2="573.60" y2="1050.50" stroke="#000" stroke-width="3.5" stroke-linecap="round"/>
<rect x="553.15" y="1010.30" width="25.90" height="37.50" fill="#d6d6d6" stroke="#000" stroke-width="3.5"/>
<line x1="553.15" y1="1047.80" x2="579.05" y2="1047.80" stroke="#000" stroke-width="3.5" stroke-linecap="butt"/>
<line x1="609.90" y1="853.40" x2="609.90" y2="1003.20" stroke="#000" stroke-width="3.5" stroke-linecap="butt"/>
<line x1="609.90" y1="1046.00" x2="609.90" y2="1050.50" stroke="#000" stroke-width="3.5" stroke-linecap="butt"/>
<line x1="602.40" y1="853.40" x2="617.40" y2="853.40" stroke="#000" stroke-width="3.5" stroke-linecap="round"/>
<line x1="602.40" y1="1050.50" x2="617.40" y2="1050.50" stroke="#000" stroke-width="3.5" stroke-linecap="round"/>
<rect x="596.95" y="1003.20" width="25.90" height="42.80" fill="#a7a8aa" stroke="#000" stroke-width="3.5"/>
<line x1="596.95" y1="1037.00" x2="622.85" y2="1037.00" stroke="#000" stroke-width="3.5" stroke-linecap="butt"/>
<line x1="653.40" y1="930.90" x2="653.40" y2="977.60" stroke="#000" stroke-width="3.5" stroke-linecap="butt"/>
<line x1="653.40" y1="1029.40" x2="653.40" y2="1046.80" stroke="#000" stroke-width="3.5" stroke-linecap="butt"/>
<line x1="645.90" y1="930.90" x2="660.90" y2="930.90" stroke="#000" stroke-width="3.5" stroke-linecap="round"/>
<line x1="645.90" y1="1046.80" x2="660.90" y2="1046.80" stroke="#000" stroke-width="3.5" stroke-linecap="round"/>
<rect x="640.45" y="977.60" width="25.90" height="51.80" fill="#6b6e6e" stroke="#000" stroke-width="3.5"/>
<line x1="640.45" y1="1000.90" x2="666.35" y2="1000.90" stroke="#000" stroke-width="3.5" stroke-linecap="butt"/>
<path d="M566.10,840.10 V826.00 H653.40 V919.30" stroke="#000" stroke-width="2.8" fill="none" stroke-linejoin="miter" stroke-linecap="butt"/>
<text transform="translate(608.50,818.80) scale(1.0,1.05)" text-anchor="middle" font-size="16" font-weight="bold" fill="#000" stroke="#000" stroke-width="0.3">0.003</text>
<text transform="translate(567.60,1079.20) scale(1.0,1.05)" text-anchor="middle" font-size="16" font-weight="bold" fill="#000" stroke="#000" stroke-width="0.3">Low</text>
<text transform="translate(611.40,1079.20) scale(1.0,1.05)" text-anchor="middle" font-size="16" font-weight="bold" fill="#000" stroke="#000" stroke-width="0.3">Mid</text>
<text transform="translate(654.90,1079.20) scale(1.0,1.05)" text-anchor="middle" font-size="16" font-weight="bold" fill="#000" stroke="#000" stroke-width="0.3">High</text>
<text transform="translate(611.80,1107.40) scale(1.0,1.05)" text-anchor="middle" font-size="16" font-weight="bold" fill="#000" stroke="#000" stroke-width="0.3">Dose group</text>
<text transform="translate(499.40,944.30) rotate(-90) scale(1.02,1.05)" text-anchor="middle" font-size="16" font-weight="bold" fill="#000">CSO<tspan dy="1.9" font-size="15">1-28</tspan></text>
<rect x="73.10" y="1252.80" width="24.90" height="125.40" fill="#6d7070"/>
<path d="M74.90,1378.20 V1254.60 H96.20 V1378.20" stroke="#454949" stroke-width="3.6" fill="none" stroke-linejoin="miter" stroke-linecap="butt"/>
<rect x="101.10" y="1283.40" width="25.20" height="94.80" fill="#ffffff"/>
<path d="M102.90,1378.20 V1285.20 H124.50 V1378.20" stroke="#a9aaac" stroke-width="3.6" fill="none" stroke-linejoin="miter" stroke-linecap="butt"/>
<rect x="144.30" y="1301.30" width="24.70" height="76.90" fill="#6d7070"/>
<path d="M146.10,1378.20 V1303.10 H167.20 V1378.20" stroke="#454949" stroke-width="3.6" fill="none" stroke-linejoin="miter" stroke-linecap="butt"/>
<rect x="172.30" y="1254.90" width="24.90" height="123.30" fill="#ffffff"/>
<path d="M174.10,1378.20 V1256.70 H195.40 V1378.20" stroke="#a9aaac" stroke-width="3.6" fill="none" stroke-linejoin="miter" stroke-linecap="butt"/>
<rect x="215.40" y="1360.00" width="24.50" height="18.20" fill="#6d7070"/>
<path d="M217.20,1378.20 V1361.80 H238.10 V1378.20" stroke="#454949" stroke-width="3.6" fill="none" stroke-linejoin="miter" stroke-linecap="butt"/>
<rect x="243.00" y="1186.60" width="25.80" height="191.60" fill="#ffffff"/>
<path d="M244.80,1378.20 V1188.40 H267.00 V1378.20" stroke="#a9aaac" stroke-width="3.6" fill="none" stroke-linejoin="miter" stroke-linecap="butt"/>
<line x1="61.20" y1="1157.90" x2="61.20" y2="1379.70" stroke="#000" stroke-width="3.0" stroke-linecap="butt"/>
<line x1="51.20" y1="1159.40" x2="61.20" y2="1159.40" stroke="#000" stroke-width="3.0" stroke-linecap="butt"/>
<text transform="translate(45.70,1164.70) scale(1.0,1.05)" text-anchor="end" font-size="16" font-weight="bold" fill="#000" stroke="#000" stroke-width="0.3">100</text>
<line x1="51.20" y1="1203.20" x2="61.20" y2="1203.20" stroke="#000" stroke-width="3.0" stroke-linecap="butt"/>
<text transform="translate(45.70,1208.50) scale(1.0,1.05)" text-anchor="end" font-size="16" font-weight="bold" fill="#000" stroke="#000" stroke-width="0.3">80</text>
<line x1="51.20" y1="1247.00" x2="61.20" y2="1247.00" stroke="#000" stroke-width="3.0" stroke-linecap="butt"/>
<text transform="translate(45.70,1252.30) scale(1.0,1.05)" text-anchor="end" font-size="16" font-weight="bold" fill="#000" stroke="#000" stroke-width="0.3">60</text>
<line x1="51.20" y1="1290.80" x2="61.20" y2="1290.80" stroke="#000" stroke-width="3.0" stroke-linecap="butt"/>
<text transform="translate(45.70,1296.10) scale(1.0,1.05)" text-anchor="end" font-size="16" font-weight="bold" fill="#000" stroke="#000" stroke-width="0.3">40</text>
<line x1="51.20" y1="1334.60" x2="61.20" y2="1334.60" stroke="#000" stroke-width="3.0" stroke-linecap="butt"/>
<text transform="translate(45.70,1339.90) scale(1.0,1.05)" text-anchor="end" font-size="16" font-weight="bold" fill="#000" stroke="#000" stroke-width="0.3">20</text>
<line x1="51.20" y1="1378.40" x2="61.20" y2="1378.40" stroke="#000" stroke-width="3.0" stroke-linecap="butt"/>
<text transform="translate(45.70,1383.70) scale(1.0,1.05)" text-anchor="end" font-size="16" font-weight="bold" fill="#000" stroke="#000" stroke-width="0.3">0</text>
<line x1="51.20" y1="1378.20" x2="280.30" y2="1378.20" stroke="#000" stroke-width="3.0" stroke-linecap="butt"/>
<path d="M113.90,1209.80 V1158.50 H255.30 V1178.20" stroke="#000" stroke-width="2.8" fill="none" stroke-linejoin="miter" stroke-linecap="butt"/>
<text transform="translate(184.00,1148.20) scale(1.0,1.05)" text-anchor="middle" font-size="16" font-weight="bold" fill="#000" stroke="#000" stroke-width="0.3">0.015</text>
<path d="M85.40,1243.50 V1222.90 H227.40 V1347.30" stroke="#000" stroke-width="2.8" fill="none" stroke-linejoin="miter" stroke-linecap="butt"/>
<text transform="translate(156.40,1213.30) scale(1.0,1.05)" text-anchor="middle" font-size="16" font-weight="bold" fill="#000" stroke="#000" stroke-width="0.3">0.003</text>
<text transform="translate(100.70,1395.60) scale(1.0,1.05)" text-anchor="middle" font-size="16" font-weight="bold" fill="#000" stroke="#000" stroke-width="0.3">Low</text>
<text transform="translate(170.80,1395.60) scale(1.0,1.05)" text-anchor="middle" font-size="16" font-weight="bold" fill="#000" stroke="#000" stroke-width="0.3">Mid</text>
<text transform="translate(240.00,1395.60) scale(1.0,1.05)" text-anchor="middle" font-size="16" font-weight="bold" fill="#000" stroke="#000" stroke-width="0.3">High</text>
<text transform="translate(170.80,1418.30) scale(1.0,1.05)" text-anchor="middle" font-size="16" font-weight="bold" fill="#000" stroke="#000" stroke-width="0.3">Dose group</text>
<text transform="translate(12.80,1269.00) rotate(-90) scale(1.0,1.05)" text-anchor="middle" font-size="16" font-weight="bold" fill="#000">Incidence (%)</text>
<rect x="319.8" y="1167.8" width="24.0" height="12.4" fill="#6d7070" stroke="#454949" stroke-width="3.6"/>
<rect x="319.8" y="1198.3999999999999" width="24.0" height="12.200000000000001" fill="#ffffff" stroke="#a9aaac" stroke-width="3.6"/>
<text transform="translate(351.50,1179.00) scale(1.0,1.05)" text-anchor="start" font-size="16" font-weight="normal" fill="#000">NDI</text>
<text transform="translate(351.50,1210.00) scale(1.0,1.05)" text-anchor="start" font-size="16" font-weight="normal" fill="#000">BPD</text>
</svg>
</body></html>
